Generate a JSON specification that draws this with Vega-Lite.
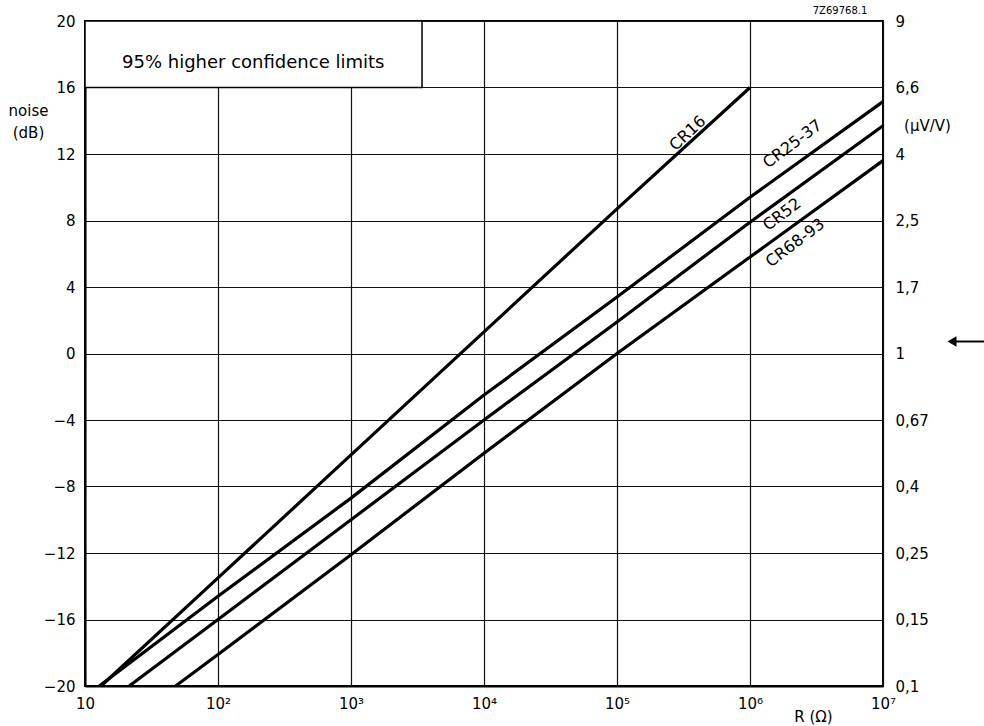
{
  "$schema": "https://vega.github.io/schema/vega-lite/v6.json",
  "autosize": {"type": "none"},
  "padding": {"left": 85, "top": 21, "right": 101, "bottom": 40},
  "width": 798,
  "height": 665,
  "background": "white",
  "config": {
    "view": {"stroke": "black", "strokeWidth": 2},
    "axis": {"labelFont": "DejaVu Sans", "titleFont": "DejaVu Sans", "labelFontSize": 15, "titleFontSize": 15, "labelColor": "black", "titleColor": "black", "titleFontWeight": "normal", "domainColor": "black", "domainWidth": 2, "gridColor": "#111", "gridWidth": 1.2, "gridOpacity": 1, "ticks": false}
  },
  "datasets": {
    "lines": [
      {"R": 13.2, "dB": -20, "series": "CR16"},
      {"R": 100, "dB": -13.5, "series": "CR16"},
      {"R": 1000, "dB": -6.1, "series": "CR16"},
      {"R": 10000, "dB": 1.3, "series": "CR16"},
      {"R": 100000, "dB": 8.7, "series": "CR16"},
      {"R": 1000000, "dB": 16, "series": "CR16"},
      {"R": 12.8, "dB": -20, "series": "CR25-37"},
      {"R": 100, "dB": -14.6, "series": "CR25-37"},
      {"R": 1000, "dB": -8.7, "series": "CR25-37"},
      {"R": 10000, "dB": -2.5, "series": "CR25-37"},
      {"R": 100000, "dB": 3.4, "series": "CR25-37"},
      {"R": 1000000, "dB": 9.4, "series": "CR25-37"},
      {"R": 10000000, "dB": 15.15, "series": "CR25-37"},
      {"R": 21.5, "dB": -20, "series": "CR52"},
      {"R": 100, "dB": -16, "series": "CR52"},
      {"R": 1000, "dB": -10, "series": "CR52"},
      {"R": 10000, "dB": -4, "series": "CR52"},
      {"R": 100000, "dB": 1.9, "series": "CR52"},
      {"R": 1000000, "dB": 7.9, "series": "CR52"},
      {"R": 10000000, "dB": 13.7, "series": "CR52"},
      {"R": 48, "dB": -20, "series": "CR68-93"},
      {"R": 100, "dB": -18.1, "series": "CR68-93"},
      {"R": 1000, "dB": -12.1, "series": "CR68-93"},
      {"R": 10000, "dB": -6, "series": "CR68-93"},
      {"R": 100000, "dB": 0, "series": "CR68-93"},
      {"R": 1000000, "dB": 5.8, "series": "CR68-93"},
      {"R": 10000000, "dB": 11.6, "series": "CR68-93"}
    ],
    "labels": [
      {"R": 340000, "dB": 13.25, "text": "CR16", "group": "steep"},
      {"R": 2090000, "dB": 12.6, "text": "CR25-37", "group": "flat"},
      {"R": 1740000, "dB": 8.36, "text": "CR52", "group": "flat"},
      {"R": 2190000, "dB": 6.65, "text": "CR68-93", "group": "flat"}
    ],
    "box": [{"x1": 10, "x2": 3420, "y1": 16, "y2": 20, "text": "95% higher confidence limits", "xm": 184, "ym": 17.5}],
    "code": [{"R": 4750000, "dB": 20, "text": "7Z69768.1"}],
    "arrow": [{"x1": 33000000, "x2": 60000000, "dB": 0.72}]
  },
  "resolve": {"axis": {"y": "independent"}},
  "layer": [
    {
      "data": {"name": "box"},
      "mark": {"type": "rect", "fill": "white", "stroke": "black", "strokeWidth": 1.5},
      "encoding": {
        "x": {"field": "x1", "type": "quantitative", "scale": {"type": "log", "domain": [10, 10000000], "nice": false},
              "axis": {"orient": "bottom", "values": [10, 100, 1000, 10000, 100000, 1000000, 10000000], "grid": true, "labelPadding": 10,
                       "labelExpr": "['','10','10²','10³','10⁴','10⁵','10⁶','10⁷'][round(log(datum.value)/LN10)]",
                       "title": "R (Ω)", "titleX": 728, "titleY": 30, "titleAlign": "center", "titleBaseline": "middle", "labelFlush": false, "labelOverlap": false}},
        "x2": {"field": "x2"},
        "y": {"field": "y1", "type": "quantitative", "scale": {"domain": [-20, 20], "nice": false},
              "axis": {"orient": "left", "values": [-20, -16, -12, -8, -4, 0, 4, 8, 12, 16, 20], "grid": true, "labelPadding": 10,
                       "title": ["noise", "(dB)"], "titleAngle": 0, "titleX": -57, "titleY": 89, "titleAlign": "center", "titleBaseline": "middle", "titleLineHeight": 22, "labelFlush": false, "labelOverlap": false}},
        "y2": {"field": "y2"}
      }
    },
    {
      "data": {"name": "lines"},
      "mark": {"type": "line", "color": "black", "strokeWidth": 3.2},
      "encoding": {
        "x": {"field": "R", "type": "quantitative"},
        "y": {"field": "dB", "type": "quantitative",
              "axis": {"orient": "right", "values": [-20, -16, -12, -8, -4, 0, 4, 8, 12, 16, 20], "grid": false, "labelPadding": 12, "domain": false,
                       "labelExpr": "['0,1','0,15','0,25','0,4','0,67','1','1,7','2,5','4','6,6','9'][round((datum.value+20)/4)]",
                       "title": "(µV/V)", "titleAngle": 0, "titleX": 44, "titleY": 104, "titleAlign": "center", "titleBaseline": "middle", "labelFlush": false, "labelOverlap": false}},
        "detail": {"field": "series"}
      }
    },
    {
      "data": {"name": "labels"},
      "transform": [{"filter": "datum.group == 'steep'"}],
      "mark": {"type": "text", "font": "DejaVu Sans", "fontSize": 16, "angle": -43, "align": "center", "baseline": "middle", "color": "black"},
      "encoding": {
        "x": {"field": "R", "type": "quantitative"},
        "y": {"field": "dB", "type": "quantitative", "axis": null},
        "text": {"field": "text"}
      }
    },
    {
      "data": {"name": "labels"},
      "transform": [{"filter": "datum.group == 'flat'"}],
      "mark": {"type": "text", "font": "DejaVu Sans", "fontSize": 16, "angle": -37, "align": "center", "baseline": "middle", "color": "black"},
      "encoding": {
        "x": {"field": "R", "type": "quantitative"},
        "y": {"field": "dB", "type": "quantitative", "axis": null},
        "text": {"field": "text"}
      }
    },
    {
      "data": {"name": "box"},
      "mark": {"type": "text", "font": "DejaVu Sans", "fontSize": 18, "align": "center", "baseline": "middle", "color": "black"},
      "encoding": {
        "x": {"field": "xm", "type": "quantitative"},
        "y": {"field": "ym", "type": "quantitative", "axis": null},
        "text": {"field": "text"}
      }
    },
    {
      "data": {"name": "code"},
      "mark": {"type": "text", "font": "DejaVu Sans", "fontSize": 10, "align": "center", "baseline": "bottom", "dy": -5, "color": "black"},
      "encoding": {
        "x": {"field": "R", "type": "quantitative"},
        "y": {"field": "dB", "type": "quantitative", "axis": null},
        "text": {"field": "text"}
      }
    },
    {
      "data": {"name": "arrow"},
      "mark": {"type": "rule", "color": "black", "strokeWidth": 2},
      "encoding": {
        "x": {"field": "x1", "type": "quantitative"},
        "x2": {"field": "x2"},
        "y": {"field": "dB", "type": "quantitative", "axis": null}
      }
    },
    {
      "data": {"name": "arrow"},
      "mark": {"type": "point", "shape": "triangle-left", "filled": true, "color": "black", "size": 110, "opacity": 1},
      "encoding": {
        "x": {"field": "x1", "type": "quantitative"},
        "y": {"field": "dB", "type": "quantitative", "axis": null}
      }
    }
  ]
}
